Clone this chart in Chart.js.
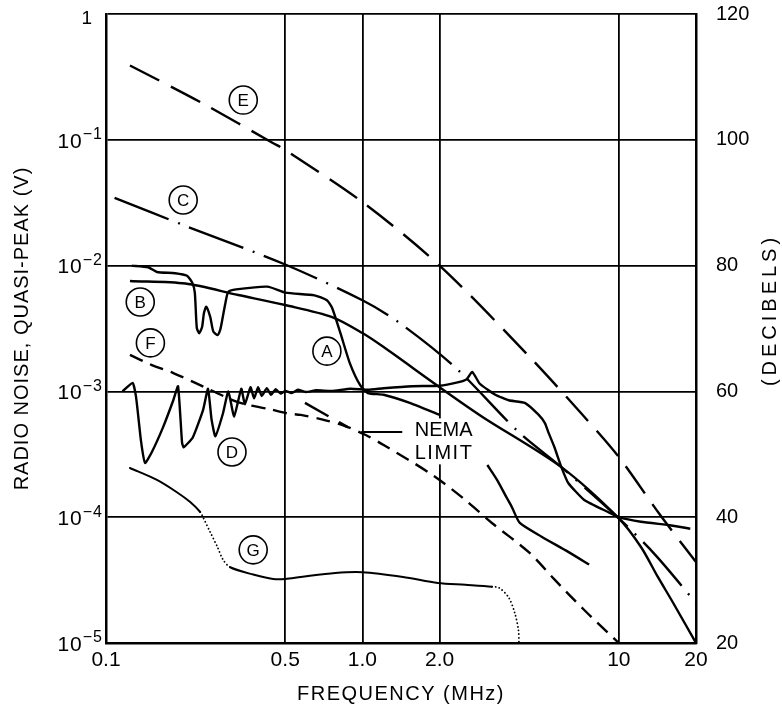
<!DOCTYPE html>
<html>
<head>
<meta charset="utf-8">
<script src="https://cdn.jsdelivr.net/npm/chart.js@4.4.0/dist/chart.umd.min.js"></script>
<style>
  html, body { margin: 0; padding: 0; background: #fff; }
  #wrap { width: 782px; height: 710px; }
</style>
</head>
<body>
<div id="wrap"><canvas id="grafico"></canvas></div>
<script>
// axes
const xTicks = [0.1, 0.5, 1, 2, 10, 20]
const xTickLabels = ["0.1", "0.5", "1.0", "2.0", "10", "20"]
const yTicks = [1e-5, 1e-4, 1e-3, 1e-2, 1e-1, 1]
const yTickBase = ["10", "10", "10", "10", "10", "1"]
const yTickExp = ["−5", "−4", "−3", "−2", "−1", ""]
const dbTicks = [20, 40, 60, 80, 100, 120]

// curve A (solid, dip + plateau, broken by the NEMA label)
const aFreq = [0.126, 0.146, 0.158, 0.186, 0.207, 0.217, 0.222, 0.226, 0.231, 0.237, 0.241, 0.246, 0.255, 0.262, 0.272, 0.279, 0.284, 0.292, 0.300, 0.328, 0.426, 0.5, 0.65, 0.727, 0.762, 0.821, 0.893, 0.98, 1.05, 1.21, 1.53, 2.0, 2.5, 3.07, 3.35, 3.66, 3.83, 4.11, 5.0, 6.35, 7.66]
const aVolt = [0.0100, 0.0097, 0.0089, 0.0087, 0.0083, 0.0073, 0.0061, 0.0032, 0.0029, 0.00325, 0.0042, 0.0047, 0.0039, 0.0030, 0.0028, 0.0031, 0.0037, 0.0050, 0.0062, 0.0065, 0.0068, 0.0061, 0.0058, 0.0053, 0.0046, 0.0029, 0.00168, 0.00112, 0.00097, 0.00094, 0.00081, 0.00065, null, 0.00026, 0.000198, 0.000142, 0.00012, 0.00009, 0.00007, 0.000053, 0.000042]

// curve B (solid, smooth)
const bFreq = [0.124, 0.204, 0.328, 0.5, 0.762, 1.0, 1.21, 2.0, 2.93, 5.97, 10, 12.2, 14.2, 16.3, 20]
const bVolt = [0.00755, 0.0072, 0.00584, 0.00486, 0.0039, 0.00291, 0.00225, 0.00108, 0.00063, 0.00025, 0.000098, 0.000058, 0.0000335, 0.0000208, 0.00001]

// curve C (dash-dot)
const cFreq = [0.108, 0.209, 0.5, 1.0, 1.38, 2.31, 4.07, 5.97, 10, 13.9, 20]
const cVolt = [0.0345, 0.0203, 0.0102, 0.0053, 0.00356, 0.00154, 0.000475, 0.00025, 0.000098, 0.00005, 0.0000208]

// curve D (solid, oscillating)
const dFreq = [0.116, 0.127, 0.131, 0.137, 0.142, 0.151, 0.167, 0.183, 0.191, 0.198, 0.201, 0.218, 0.239, 0.250, 0.258, 0.267, 0.286, 0.300, 0.316, 0.337, 0.348, 0.366, 0.378, 0.392, 0.405, 0.424, 0.44, 0.459, 0.48, 0.5, 0.53, 0.56, 0.6, 0.66, 0.76, 0.9, 1.05, 1.21, 1.57, 2.0, 2.35, 2.55, 2.68, 2.87, 3.3, 3.72, 4.3, 4.87, 5.15, 5.32, 5.61, 5.97, 6.35, 7.33, 9.07, 10, 12.2, 16.0, 19.0]
const dVolt = [0.00100, 0.00117, 0.00090, 0.00040, 0.00027, 0.00033, 0.00052, 0.00085, 0.00110, 0.00039, 0.00036, 0.00043, 0.00071, 0.00105, 0.00060, 0.00044, 0.00067, 0.00100, 0.00063, 0.00105, 0.00079, 0.00108, 0.00088, 0.00108, 0.00092, 0.00106, 0.00094, 0.00104, 0.00096, 0.00101, 0.00097, 0.00103, 0.00099, 0.00102, 0.00101, 0.00105, 0.00103, 0.00106, 0.00110, 0.00111, 0.00118, 0.00125, 0.00143, 0.00115, 0.00094, 0.00085, 0.00081, 0.00065, 0.00056, 0.00047, 0.00036, 0.00025, 0.000187, 0.000137, 0.000110, 0.000100, 0.000092, 0.000086, 0.000081]

// curve E (long dash)
const eFreq = [0.124, 0.237, 0.449, 0.5, 1.0, 2.0, 4.49, 7.13, 10, 14.5, 20]
const eVolt = [0.39, 0.196, 0.094, 0.083, 0.032, 0.0100, 0.00188, 0.00067, 0.000301, 0.000104, 0.000044]

// curve F (short dash)
const fFreq = [0.124, 0.151, 0.183, 0.223, 0.313, 0.359, 0.438, 0.509, 0.575, 0.694, 0.837, 1.03, 1.21, 1.88, 2.52, 3.2, 4.49, 5.61, 7.33, 10]
const fVolt = [0.00195, 0.00162, 0.0014, 0.00117, 0.00085, 0.00078, 0.00072, 0.00067, 0.00065, 0.0006, 0.00054, 0.00045, 0.000375, 0.000216, 0.000137, 0.00009, 0.000052, 0.000032, 0.0000183, 0.00001]

// NEMA limit piece
const nemaFreq = [0.597, 0.877]
const nemaVolt = [0.00081, 0.00052]

// curve G (solid with dotted parts)
const gFreq = [0.124, 0.158, 0.189, 0.213, 0.233, 0.239, 0.255, 0.272, 0.286, 0.305, 0.375, 0.449, 0.5, 0.575, 0.783, 1.0, 1.44, 1.97, 2.52, 3.2, 3.41, 3.72, 3.93, 4.06, 4.08]
const gVolt = [0.000246, 0.000198, 0.000158, 0.000132, 0.00011, 0.0001, 0.000076, 0.000058, 0.000046, 0.00004, 0.000035, 0.0000323, 0.0000323, 0.0000335, 0.000036, 0.0000365, 0.0000335, 0.00003, 0.000029, 0.000028, 0.0000275, 0.000023, 0.0000173, 0.0000127, 0.00001]

// circled curve letters
const labelText = ["A", "B", "C", "D", "E", "F", "G"]
const labelFreq = [0.727, 0.136, 0.200, 0.310, 0.343, 0.149, 0.375]
const labelVolt = [0.00209, 0.00514, 0.0332, 0.00033, 0.207, 0.00243, 0.000055]

const FONT = '"Liberation Sans", Arial, sans-serif'
const gDotted = [[0.233, 0.305], [3.2, 5]]

const pts = (fs, vs) => fs.map((f, i) => ({ x: f, y: vs[i] }))

const inDotted = c => gDotted.some(([a, b]) => c.p0.parsed.x >= a - 1e-9 && c.p1.parsed.x <= b + 1e-9)

// no extra room for overflowing tick labels, the plot box is fixed
const noPad = s => { s.paddingTop = 0; s.paddingBottom = 0; s.paddingLeft = 0; s.paddingRight = 0 }

const decor = {
    id: "decor",
    beforeDatasetsDraw(chart) {
        // white patch behind the NEMA text, the grid line stops there
        const { ctx, scales: { x, y } } = chart
        const tx = x.getPixelForValue(1.6)
        const ty = y.getPixelForValue(0.00049)
        ctx.save()
        ctx.fillStyle = "#fff"
        ctx.fillRect(tx - 4, ty - 12, 68, 46)
        ctx.restore()
    },
    afterDatasetsDraw(chart) {
        const { ctx, scales: { x, y } } = chart
        ctx.save()
        ctx.strokeStyle = "#000"
        ctx.lineWidth = 1.6
        ctx.textAlign = "center"
        ctx.textBaseline = "middle"
        ctx.font = `17px ${FONT}`
        labelText.forEach((t, i) => {
            const cx = x.getPixelForValue(labelFreq[i])
            const cy = y.getPixelForValue(labelVolt[i])
            ctx.beginPath()
            ctx.arc(cx, cy, 14, 0, Math.PI * 2)
            ctx.fillStyle = "#fff"
            ctx.fill()
            ctx.stroke()
            ctx.fillStyle = "#000"
            ctx.fillText(t, cx, cy + 1)
        })

        // NEMA LIMIT label with leader
        const ly = y.getPixelForValue(0.000475)
        ctx.lineWidth = 2
        ctx.beginPath()
        ctx.moveTo(x.getPixelForValue(0.99), ly)
        ctx.lineTo(x.getPixelForValue(1.43), ly)
        ctx.stroke()
        ctx.font = `20px ${FONT}`
        ctx.textAlign = "left"
        ctx.fillStyle = "#000"
        const tx = x.getPixelForValue(1.6)
        const ty = y.getPixelForValue(0.00049)
        ctx.fillText("NEMA", tx, ty)
        ctx.letterSpacing = "1.5px"
        ctx.fillText("LIMIT", tx, ty + 23)
        ctx.restore()
    },
    afterDraw(chart) {
        const { ctx, chartArea: area, scales: { y } } = chart
        ctx.save()
        ctx.fillStyle = "#000"
        ctx.textBaseline = "middle"

        // left tick labels with superscript exponents
        yTicks.forEach((v, i) => {
            const py = y.getPixelForValue(v)
            const right = area.left - 3
            ctx.letterSpacing = "1px"
            ctx.font = `16px ${FONT}`
            const ew = yTickExp[i] ? ctx.measureText(yTickExp[i]).width : 0
            if (yTickExp[i]) {
                ctx.textAlign = "left"
                ctx.fillText(yTickExp[i], right - ew, py - 5)
                ctx.font = `21px ${FONT}`
                ctx.textAlign = "right"
                ctx.fillText(yTickBase[i], right - ew, py + 2)
            } else {
                ctx.font = `19px ${FONT}`
                ctx.textAlign = "right"
                ctx.fillText(yTickBase[i], right - 10, py + 5)
            }
        })

        // axis titles
        ctx.font = `20px ${FONT}`
        ctx.textAlign = "center"
        ctx.letterSpacing = "1px"
        ctx.save()
        ctx.translate(22, (area.top + area.bottom) / 2)
        ctx.rotate(-Math.PI / 2)
        ctx.fillText("RADIO NOISE, QUASI-PEAK (V)", 0, 0)
        ctx.restore()

        ctx.save()
        ctx.letterSpacing = "4px"
        ctx.translate(770, area.top + 296)
        ctx.rotate(-Math.PI / 2)
        ctx.fillText("(DECIBELS)", 0, 0)
        ctx.restore()

        ctx.letterSpacing = "1.5px"
        ctx.fillText("FREQUENCY (MHz)", (area.left + area.right) / 2, 694)
        ctx.restore()
    }
}

const grid = { color: "#000", lineWidth: 1.8, drawTicks: false }
const border = { color: "#000", width: 2.5 }

const ctx = document.getElementById("grafico").getContext("2d")

new Chart(ctx, {
    type: "line",
    data: {
        datasets: [
            { label: "A", data: pts(aFreq, aVolt), tension: 0.2, spanGaps: false },
            { label: "B", data: pts(bFreq, bVolt), tension: 0.3 },
            { label: "C", data: pts(cFreq, cVolt), tension: 0.3, borderDash: [58, 10, 2, 10] },
            { label: "D", data: pts(dFreq, dVolt), tension: 0.15 },
            { label: "E", data: pts(eFreq, eVolt), tension: 0.3, borderDash: [33, 13] },
            { label: "F", data: pts(fFreq, fVolt), tension: 0.3, borderDash: [14, 8] },
            { label: "NEMA", data: pts(nemaFreq, nemaVolt), tension: 0, borderDash: [27, 12] },
            {
                label: "G", data: pts(gFreq, gVolt), tension: 0.3, borderWidth: 2,
                borderCapStyle: "round",
                segment: {
                    borderDash: c => inDotted(c) ? [0.1, 3.6] : undefined,
                    borderWidth: c => inDotted(c) ? 1.8 : undefined
                }
            }
        ]
    },
    options: {
        responsive: true,
        maintainAspectRatio: false,
        animation: false,
        layout: { padding: { top: 14 } },
        plugins: {
            legend: { display: false },
            tooltip: { enabled: false }
        },
        elements: {
            point: { radius: 0 },
            line: { borderColor: "#000", borderWidth: 2.4, fill: false, borderJoinStyle: "round" }
        },
        scales: {
            x: {
                type: "logarithmic",
                min: 0.1,
                max: 20,
                afterBuildTicks: s => { s.ticks = xTicks.map(v => ({ value: v })) },
                afterFit: s => { s.height = 67; noPad(s) },
                ticks: {
                    callback: (v, i) => xTickLabels[i],
                    color: "#000",
                    font: { family: FONT, size: 21 },
                    padding: 5,
                    maxRotation: 0,
                    autoSkip: false
                },
                grid,
                border
            },
            y: {
                type: "logarithmic",
                position: "left",
                min: 1e-5,
                max: 1,
                afterBuildTicks: s => { s.ticks = yTicks.map(v => ({ value: v })) },
                afterFit: s => { s.width = 106; noPad(s) },
                ticks: { callback: () => "" },
                grid,
                border
            },
            db: {
                type: "linear",
                position: "right",
                min: 20,
                max: 120,
                afterBuildTicks: s => { s.ticks = dbTicks.map(v => ({ value: v })) },
                afterFit: s => { s.width = 86; noPad(s) },
                ticks: { color: "#000", font: { family: FONT, size: 20 }, padding: 12 },
                grid: { display: false },
                border
            }
        }
    },
    plugins: [decor]
})
</script>
</body>
</html>
